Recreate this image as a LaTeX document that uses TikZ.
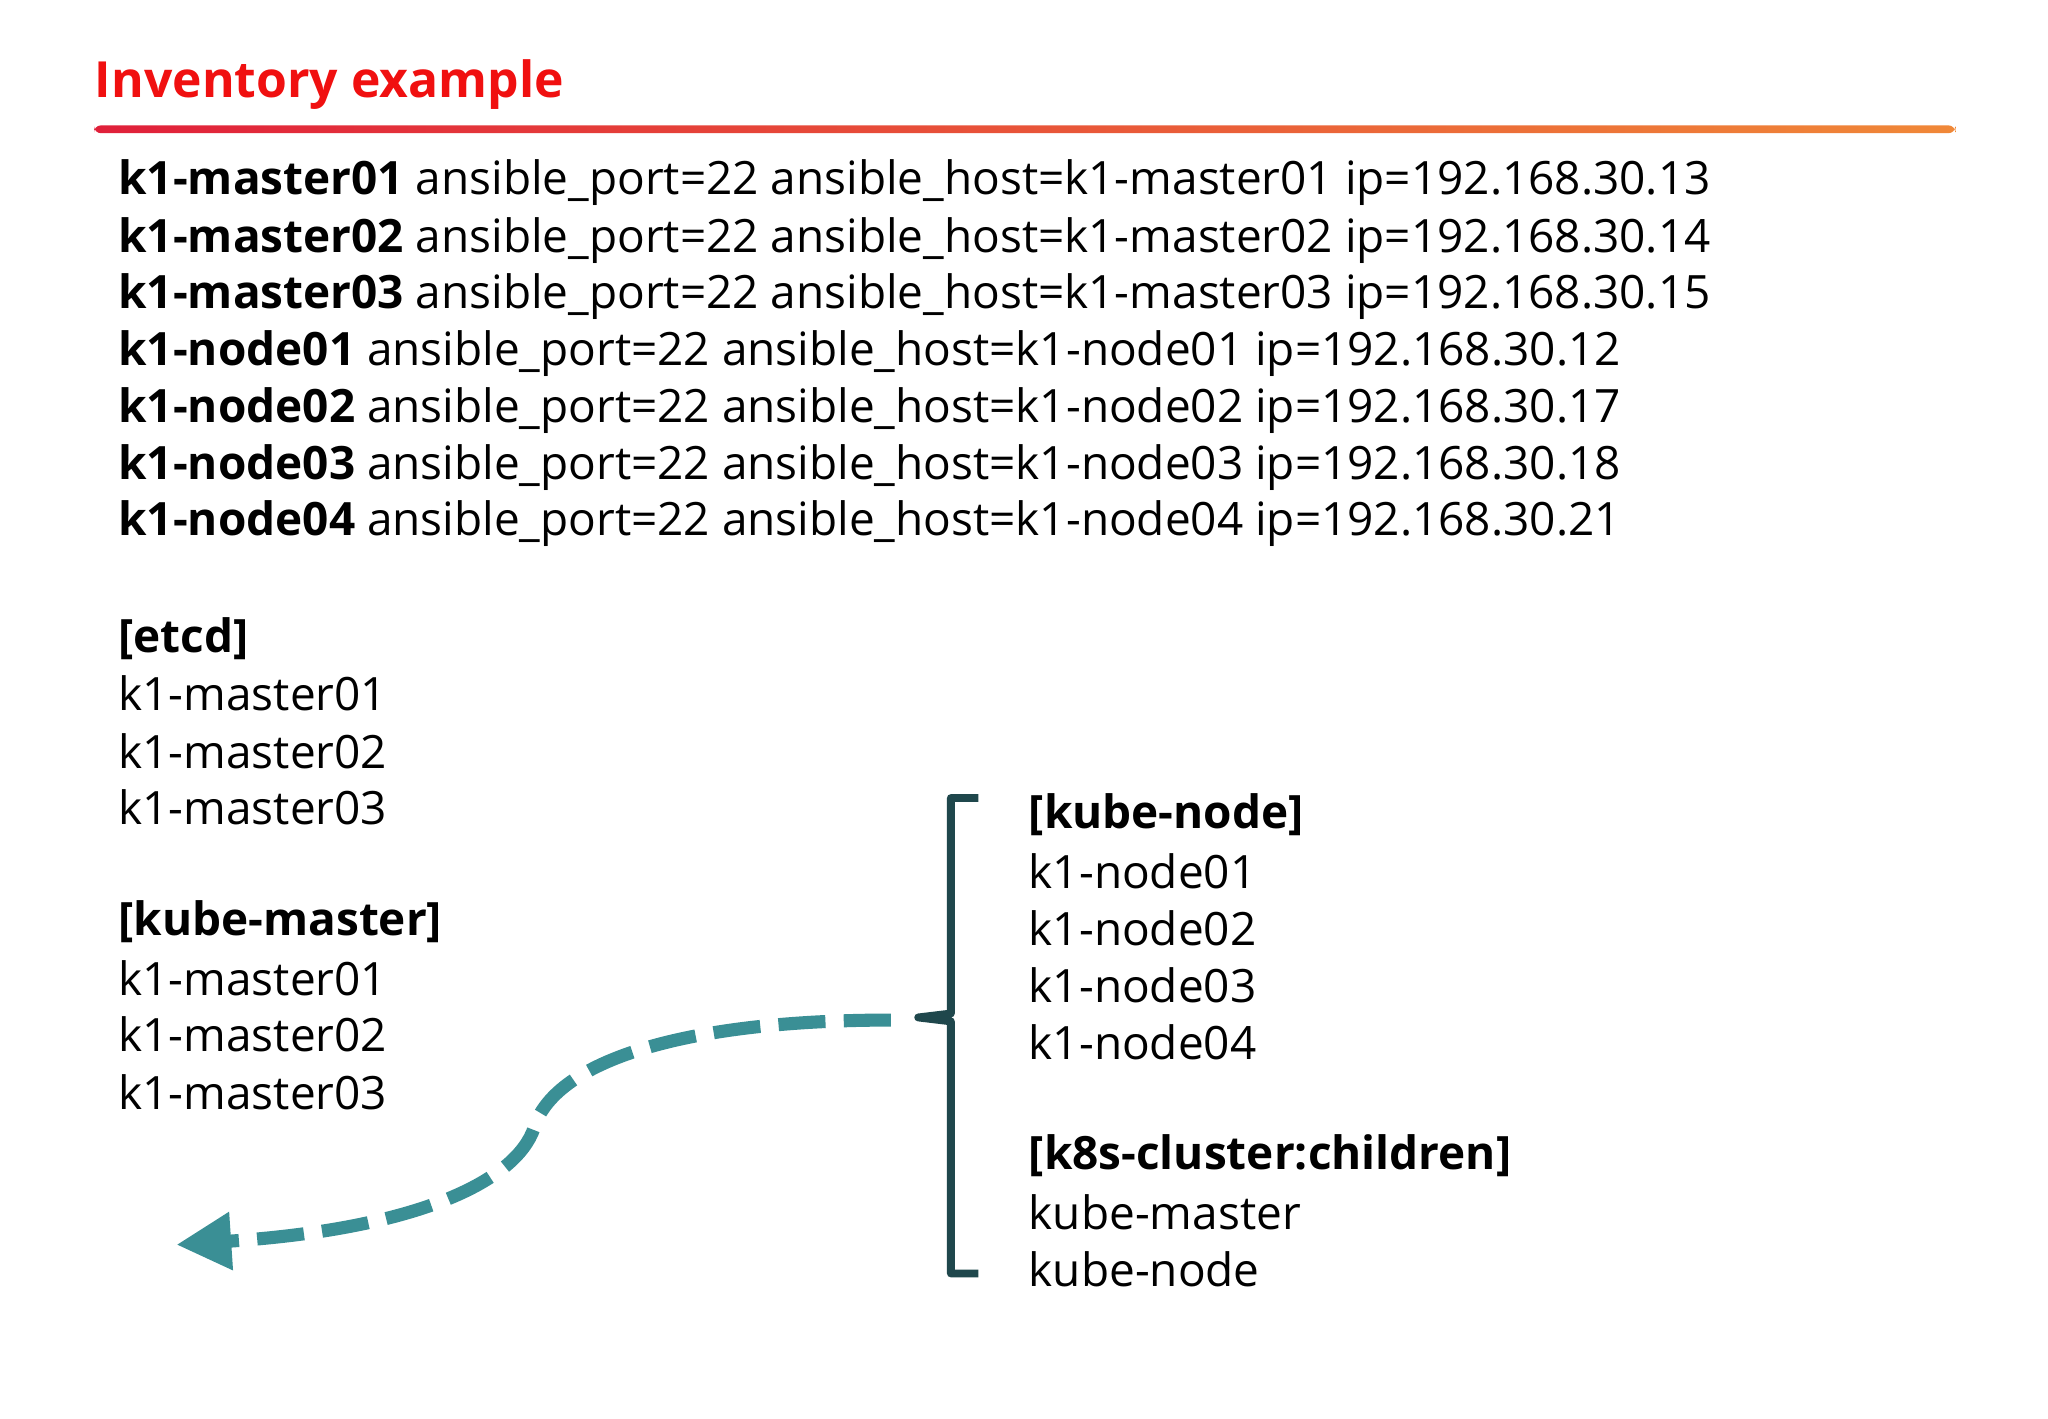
\documentclass[tikz,border=0pt]{standalone}
\usepackage{fontspec}
\setmainfont{Open Sans}
\usetikzlibrary{arrows.meta,shadings}
\definecolor{tred}{HTML}{F01010}
\definecolor{gL}{HTML}{E0203A}
\definecolor{gR}{HTML}{F08838}
\definecolor{brk}{HTML}{1F474C}
\definecolor{arr}{HTML}{3A8F95}
\begin{document}
\begin{tikzpicture}[x=0.01cm,y=-0.01cm,
  txt/.style={anchor=west,inner sep=0pt,font=\fontsize{10pt}{12pt}\selectfont},
  ttl/.style={anchor=west,inner sep=0pt,font=\fontsize{10.85pt}{13pt}\selectfont\bfseries,text=tred}]
\useasboundingbox (0,0) rectangle (1568,1086);
\fill[white] (0,0) rectangle (1568,1086);
\node[ttl] (title) at (72,65) {Inventory example};
\shade[left color=gL,right color=gR,rounded corners=1.5pt] (72,96) rectangle (1497,102);
\node[txt] (h1) at (90,140) {\textbf{k1-master01} ansible\_port=22 ansible\_host=k1-master01 ip=192.168.30.13};
\node[txt] (h2) at (90,184) {\textbf{k1-master02} ansible\_port=22 ansible\_host=k1-master02 ip=192.168.30.14};
\node[txt] (h3) at (90,227) {\textbf{k1-master03} ansible\_port=22 ansible\_host=k1-master03 ip=192.168.30.15};
\node[txt] (h4) at (90,271) {\textbf{k1-node01} ansible\_port=22 ansible\_host=k1-node01 ip=192.168.30.12};
\node[txt] (h5) at (90,314) {\textbf{k1-node02} ansible\_port=22 ansible\_host=k1-node02 ip=192.168.30.17};
\node[txt] (h6) at (90,358) {\textbf{k1-node03} ansible\_port=22 ansible\_host=k1-node03 ip=192.168.30.18};
\node[txt] (h7) at (90,401) {\textbf{k1-node04} ansible\_port=22 ansible\_host=k1-node04 ip=192.168.30.21};
\node[txt] (e0) at (90,489) {\textbf{[etcd]}};
\node[txt] (e1) at (90,531) {k1-master01};
\node[txt] (e2) at (90,575) {k1-master02};
\node[txt] (e3) at (90,618) {k1-master03};
\node[txt] (m0) at (90,706) {\textbf{[kube-master]}};
\node[txt] (m1) at (90,749) {k1-master01};
\node[txt] (m2) at (90,792) {k1-master02};
\node[txt] (m3) at (90,836) {k1-master03};
\node[txt] (n0) at (787,624) {\textbf{[kube-node]}};
\node[txt] (n1) at (787,667) {k1-node01};
\node[txt] (n2) at (787,711) {k1-node02};
\node[txt] (n3) at (787,754) {k1-node03};
\node[txt] (n4) at (787,798) {k1-node04};
\node[txt] (c0) at (787,885) {\textbf{[k8s-cluster:children]}};
\node[txt] (c1) at (787,928) {kube-master};
\node[txt] (c2) at (787,972) {kube-node};
\draw[brk,line width=0.06cm,line join=round] (749,611) -- (728,611) -- (728,776) -- (703,779) -- (728,782) -- (728,975) -- (749,975);
\coordinate (s) at (682,781);
\coordinate (t) at (135,953);
\draw[arr,line width=0.1cm,dash pattern=on 0.36cm off 0.14cm,-{Triangle[length=0.42cm,width=0.42cm]}]
  (s) .. controls (530,781) and (430,810) .. (410,860)
      .. controls (400,900) and (330,940) .. (t);
\end{tikzpicture}
\end{document}
